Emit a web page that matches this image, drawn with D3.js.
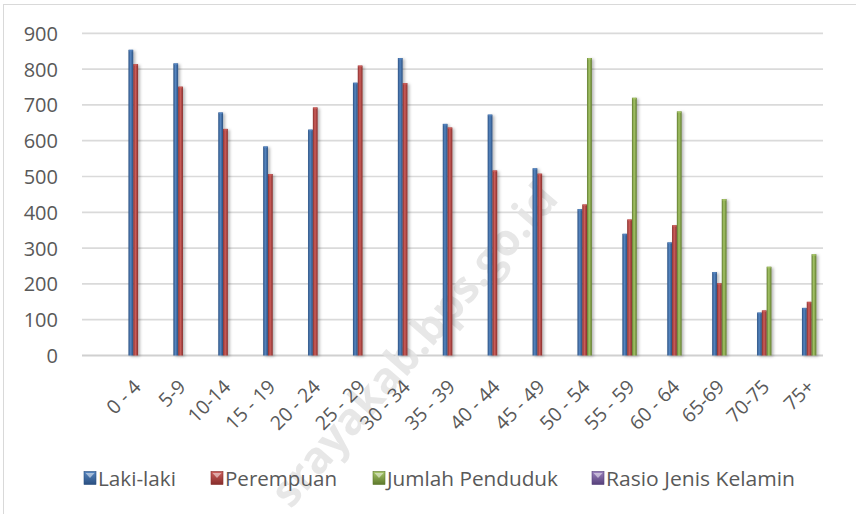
<!DOCTYPE html>
<html><head><meta charset="utf-8">
<script src="https://cdn.jsdelivr.net/npm/d3@7/dist/d3.min.js"></script>
<style>html,body{margin:0;padding:0;background:#fff;}svg{display:block;}</style>
</head><body>
<script>
const categories = ["0 - 4","5-9","10-14","15 - 19","20 - 24","25 - 29","30 - 34","35 - 39","40 - 44","45 - 49","50 - 54","55 - 59","60 - 64","65-69","70-75","75+"];
const seriesNames = ["Laki-laki","Perempuan","Jumlah Penduduk","Rasio Jenis Kelamin"];
const lakiLaki = [854,816,679,584,631,762,831,647,673,523,409,340,316,233,120,133];
const perempuan = [814,751,633,507,693,810,761,637,517,508,422,380,364,202,126,150];
const jumlahPenduduk = [null,null,null,null,null,null,null,null,null,null,831,720,682,437,248,283];
const rasioJenisKelamin = [null,null,null,null,null,null,null,null,null,null,null,null,null,null,null,null];
const yTicks = [0,100,200,300,400,500,600,700,800,900];

const W = 856, H = 514;
const svg = d3.select("body").append("svg").attr("width", W).attr("height", H);
const defs = svg.append("defs");

const palette = [
  {edge:"#2a4f80", mid:"#5585c0", base:"#3f6ea8"},
  {edge:"#872d2b", mid:"#cc5e5b", base:"#b0443f"},
  {edge:"#5d782b", mid:"#a6c668", base:"#87a748"},
  {edge:"#56407a", mid:"#9a80bd", base:"#7a5fa0"}
];
palette.forEach((p,i)=>{
  const g = defs.append("linearGradient").attr("id","bg"+i).attr("x1","0").attr("x2","1").attr("y1","0").attr("y2","0");
  g.append("stop").attr("offset","0%").attr("stop-color",p.edge);
  g.append("stop").attr("offset","45%").attr("stop-color",p.mid);
  g.append("stop").attr("offset","100%").attr("stop-color",p.edge);
  const v = defs.append("linearGradient").attr("id","lg"+i).attr("x1","0").attr("x2","0").attr("y1","0").attr("y2","1");
  v.append("stop").attr("offset","0%").attr("stop-color",p.mid);
  v.append("stop").attr("offset","100%").attr("stop-color",p.edge);
});
const f = defs.append("filter").attr("id","sh").attr("x","-100%").attr("y","-10%").attr("width","400%").attr("height","130%");
f.append("feDropShadow").attr("dx",2).attr("dy",1).attr("stdDeviation",1.5).attr("flood-color","#000").attr("flood-opacity",0.28);

// outer border
svg.append("rect").attr("x",3.5).attr("y",4.5).attr("width",W+20).attr("height",H+20)
  .attr("fill","none").attr("stroke","#d9d9d9").attr("stroke-width",1);

const plotL = 82, plotR = 823;
const y = d3.scaleLinear().domain([0,900]).range([355.5,33.3]);
const x = d3.scaleBand().domain(categories).range([115.6,834]).paddingInner(0).paddingOuter(0);
const groupW = 19.2;
const x1 = d3.scaleBand().domain(seriesNames).range([0,groupW]);

// gridlines
svg.append("g").selectAll("line").data(yTicks).join("line")
  .attr("x1",plotL).attr("x2",plotR)
  .attr("y1",d=>y(d)).attr("y2",d=>y(d))
  .attr("stroke",d=>d===0?"#d0d0d0":"#dadada").attr("stroke-width",d=>d===0?2:1.7);

// y labels
svg.append("g").selectAll("text").data(yTicks).join("text")
  .attr("x",58).attr("y",d=>y(d)).attr("text-anchor","end").attr("dominant-baseline","central")
  .attr("font-family","'Open Sans', sans-serif").attr("font-size",20).attr("fill","#595959")
  .text(d=>d);

// watermark
svg.append("text").attr("transform","translate(560,200) rotate(-49)")
  .attr("text-anchor","end").attr("font-family","'Open Sans', sans-serif").attr("font-weight","bold")
  .attr("font-size",44).attr("fill","#e3e3e3").attr("opacity",0.85)
  .text("srayakab.bps.go.id");

// bars
const allSeries = [lakiLaki, perempuan, jumlahPenduduk, rasioJenisKelamin];
const barsG = svg.append("g");
allSeries.forEach((vals, si)=>{
  const data = categories.map((c,i)=>({c, v: vals[i]})).filter(d=>d.v!=null);
  const g = barsG.append("g");
  const bx = d => x(d.c) + x.bandwidth()/2 - groupW/2 + x1(seriesNames[si]);
  g.selectAll("rect.bar").data(data).join("rect").attr("class","bar")
    .attr("x",bx).attr("width",x1.bandwidth())
    .attr("y",d=>y(d.v)).attr("height",d=>y(0)-y(d.v))
    .attr("fill","url(#bg"+si+")").attr("filter","url(#sh)");
  g.selectAll("rect.cap").data(data).join("rect").attr("class","cap")
    .attr("x",d=>bx(d)+0.6).attr("width",x1.bandwidth()-1.2)
    .attr("y",d=>y(d.v)).attr("height",1.6)
    .attr("fill",palette[si].mid).attr("opacity",0.8);
});

// x labels
svg.append("g").selectAll("text").data(categories).join("text")
  .attr("transform",d=>`translate(${x(d)+x.bandwidth()/2+4},388) rotate(-45)`)
  .attr("text-anchor","end")
  .attr("font-family","'Open Sans', sans-serif").attr("font-size",19.5).attr("fill","#595959")
  .text(d=>d);

// legend
const legendTextX = [98,225,387,606];
const legendW = [78,112,171,189];
const lg = svg.append("g");
seriesNames.forEach((s,i)=>{
  const tx = legendTextX[i];
  const mx = tx - 14;
  lg.append("rect").attr("x",mx).attr("y",471.5).attr("width",12).attr("height",13)
    .attr("fill","url(#lg"+i+")").attr("stroke",palette[i].edge).attr("stroke-width",0.6);
  lg.append("path").attr("d",`M${mx+1.5},${473} L${mx+10.5},${473} L${mx+6},${478} Z`)
    .attr("fill","#ffffff").attr("opacity",0.5);
  lg.append("text").attr("x",tx).attr("y",485.5)
    .attr("font-family","'Open Sans', sans-serif").attr("font-size",20.5).attr("fill","#595959")
    .attr("textLength",legendW[i]).attr("lengthAdjust","spacingAndGlyphs")
    .text(s);
});
</script>
</body></html>
